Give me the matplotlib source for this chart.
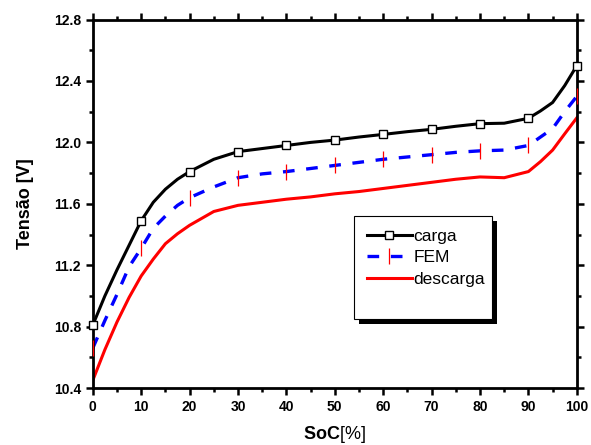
"""Tensão vs SoC chart (carga / FEM / descarga)."""

import matplotlib
matplotlib.use("Agg")
import matplotlib.pyplot as plt
from matplotlib.lines import Line2D
from matplotlib.patches import Rectangle
from matplotlib.ticker import MultipleLocator

plt.rcParams["font.family"] = ["Liberation Sans", "DejaVu Sans"]
plt.rcParams["mathtext.fontset"] = "custom"
plt.rcParams["mathtext.rm"] = "Liberation Sans"
plt.rcParams["mathtext.bf"] = "Liberation Sans:bold"

soc = [0, 2.5, 5, 7.5, 10, 12.5, 15, 17.5, 20, 25, 30, 35, 40, 45, 50, 55,
       60, 65, 70, 75, 80, 85, 90, 92.5, 95, 97.5, 100]
carga = [10.81, 11.00, 11.17, 11.33, 11.49, 11.61, 11.695, 11.76, 11.81, 11.89,
         11.94, 11.96, 11.98, 12.00, 12.015, 12.035, 12.052, 12.07, 12.085,
         12.105, 12.122, 12.125, 12.157, 12.205, 12.26, 12.37, 12.50]
fem = [10.66, 10.84, 11.01, 11.19, 11.31, 11.44, 11.52, 11.59, 11.64, 11.71,
       11.77, 11.795, 11.81, 11.83, 11.85, 11.87, 11.89, 11.905, 11.92, 11.935,
       11.945, 11.95, 11.98, 12.035, 12.09, 12.20, 12.30]
descarga = [10.45, 10.65, 10.83, 10.99, 11.13, 11.24, 11.34, 11.405, 11.46,
            11.55, 11.59, 11.61, 11.63, 11.645, 11.665, 11.68, 11.70, 11.72,
            11.74, 11.76, 11.775, 11.77, 11.81, 11.875, 11.95, 12.056, 12.16]

marks = [i for i, s in enumerate(soc) if s % 10 == 0]

fig = plt.figure(figsize=(5.91, 4.45), dpi=100)
ax = fig.add_axes([0.157, 0.128, 0.819, 0.828])

ax.plot(soc, descarga, color="red", lw=2.2, zorder=2)
ax.plot(soc, fem, color="blue", lw=2.4, dashes=(3.5, 3.5), zorder=2)
ax.plot([soc[i] for i in marks], [fem[i] for i in marks], ls="none",
        marker="|", ms=12, mew=0.9, mec="red", zorder=3, clip_on=False)
ax.plot(soc, carga, color="black", lw=2.2, zorder=4)
ax.plot([soc[i] for i in marks], [carga[i] for i in marks], ls="none",
        marker="s", ms=5.5, mfc="white", mec="black", mew=1, zorder=5, clip_on=False)

ax.set_xlim(0, 100)
ax.set_ylim(10.4, 12.8)
ax.xaxis.set_major_locator(MultipleLocator(10))
ax.xaxis.set_minor_locator(MultipleLocator(5))
ax.yaxis.set_major_locator(MultipleLocator(0.4))
ax.yaxis.set_minor_locator(MultipleLocator(0.2))
ax.yaxis.set_major_formatter(plt.FuncFormatter(lambda v, p: f"{v:.1f}"))
ax.tick_params(which="both", direction="out", top=True, right=True, width=1.8)
ax.tick_params(which="major", length=5)
ax.tick_params(which="minor", length=3)
for lab in ax.get_xticklabels() + ax.get_yticklabels():
    lab.set_fontweight("bold")
    lab.set_fontsize(10)
for sp in ax.spines.values():
    sp.set_linewidth(2)

ax.set_xlabel(r"$\mathbf{SoC}$[%]", fontsize=13, labelpad=7)
ax.set_ylabel("Tensão [V]", fontsize=13, fontweight="bold", labelpad=14)

# legend box with hard black shadow
bx, by, bw, bh = 0.539, 0.187, 0.285, 0.28
ax.add_patch(Rectangle((bx + 0.0105, by - 0.0145), bw, bh, transform=ax.transAxes,
                       facecolor="black", edgecolor="black", lw=0, zorder=6))
ax.add_patch(Rectangle((bx, by), bw, bh, transform=ax.transAxes,
                       facecolor="white", edgecolor="black", lw=0.8, zorder=7))
handles = [
    Line2D([], [], color="black", lw=2.2, marker="s", ms=5.5, mfc="white", mec="black", mew=1),
    Line2D([], [], color="blue", lw=2.4, dashes=(3.5, 3.5), marker="|", ms=12, mew=0.9, mec="red"),
    Line2D([], [], color="red", lw=2.2),
]
leg = ax.legend(handles, ["carga", "FEM", "descarga"], loc="upper left",
                bbox_to_anchor=(bx, by + bh), frameon=False, fontsize=12.5,
                handlelength=2.6, handletextpad=0.1, labelspacing=0.35,
                borderaxespad=0.35)
leg.set_zorder(8)

fig.savefig("out.png", dpi=100)
